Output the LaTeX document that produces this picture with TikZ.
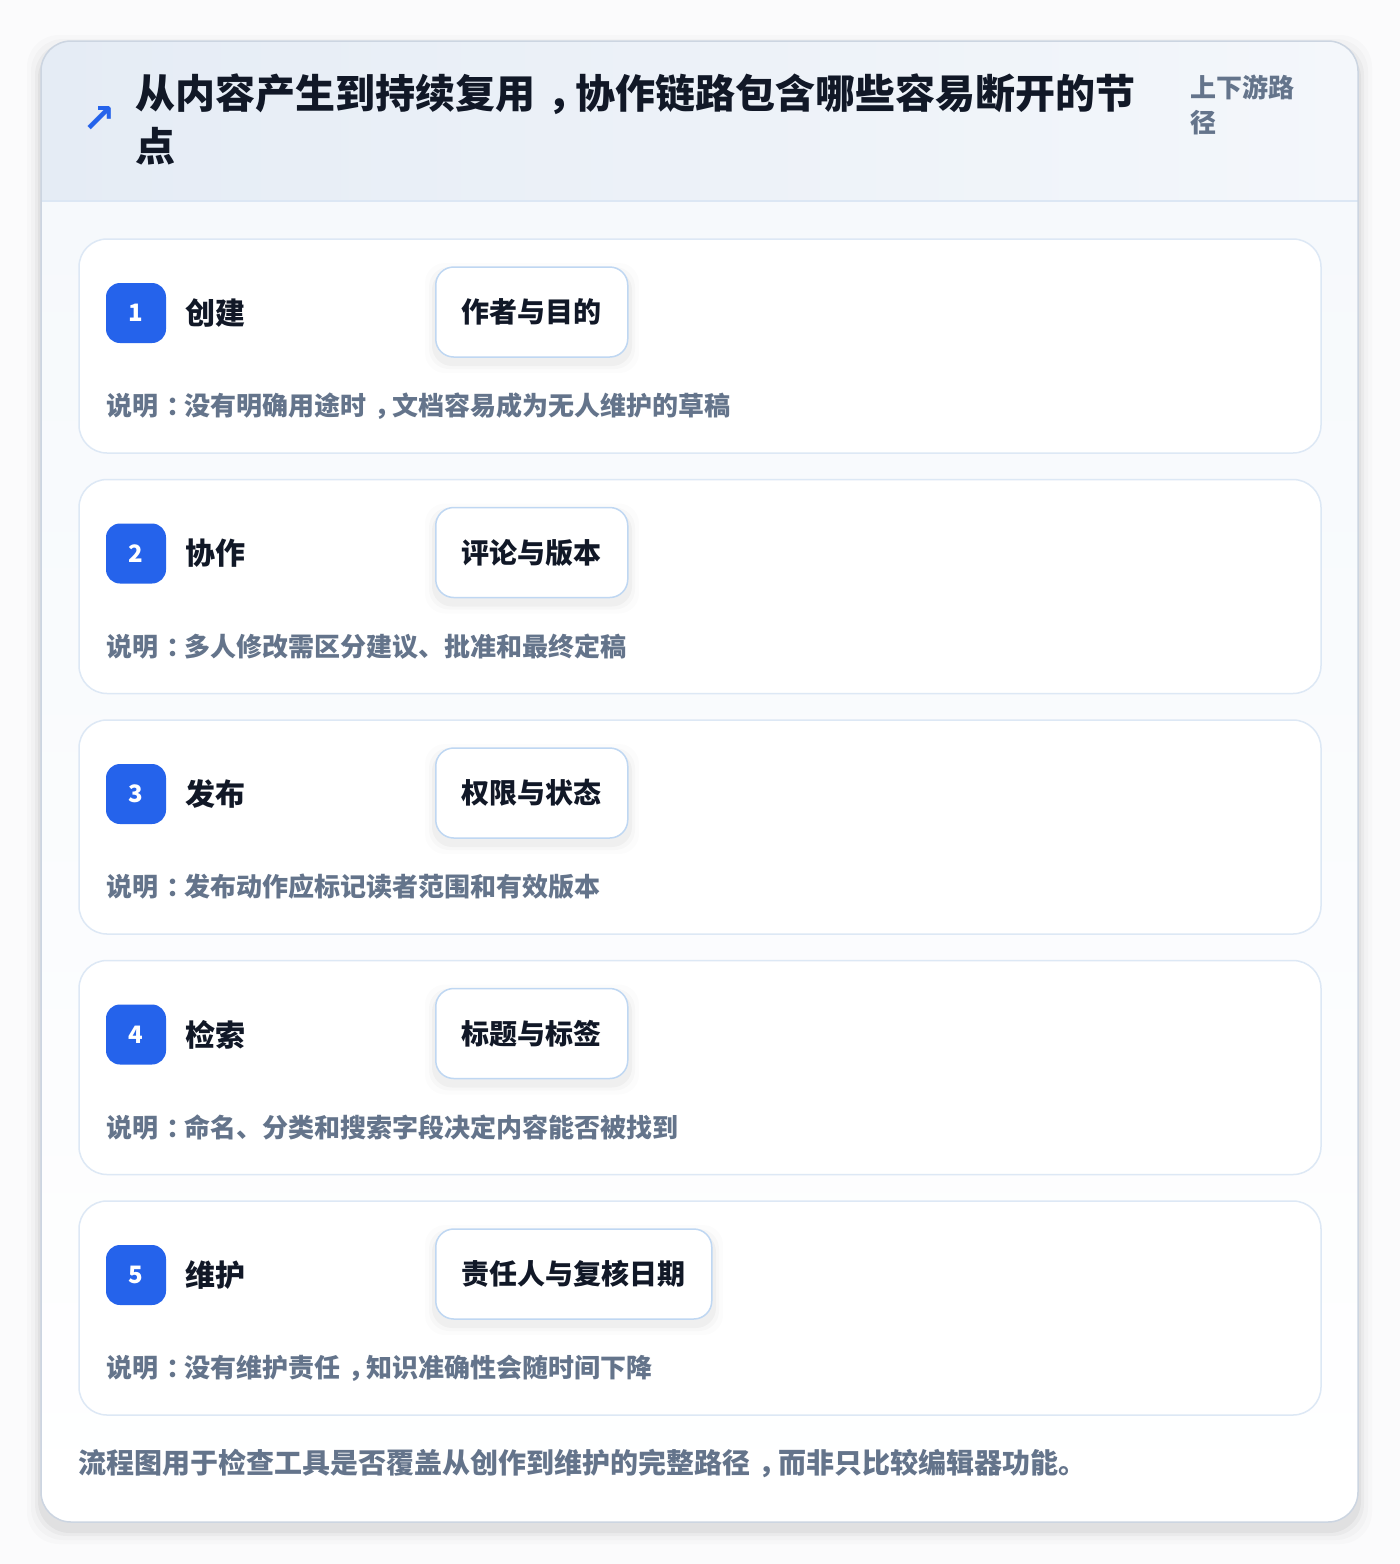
\documentclass[tikz,border=0pt]{standalone}
\usepackage{fontspec}
\setmainfont{Noto Sans CJK SC}
\newfontfamily\symfont{DejaVu Sans}
\usetikzlibrary{positioning}

% leestekens naar het midden van hun vak
\newcommand\dou{\hspace{0.3em}\makebox[0.7em][l]{，}}
\newcommand\mao{\hspace{0.3em}\makebox[0.7em][l]{：}}

\definecolor{pagebg}{HTML}{FBFBFC}
\definecolor{cardline}{HTML}{CCD5E1}
\definecolor{headA}{HTML}{E5ECF5}
\definecolor{headB}{HTML}{F4F7FB}
\definecolor{bodytint}{HTML}{F6F9FC}
\definecolor{headline}{HTML}{DCE7F4}
\definecolor{stepline}{HTML}{DDE8F5}
\definecolor{tagline}{HTML}{BFD7F2}
\definecolor{badgeblue}{HTML}{2563EB}
\definecolor{inkdark}{HTML}{111827}
\definecolor{inkgray}{HTML}{64748B}

\tikzset{
  stepcard/.style={draw=stepline, line width=1.5pt, fill=white, rounded corners=28pt},
  badge/.style={fill=badgeblue, rounded corners=14pt, minimum size=60pt, inner sep=0pt,
    text=white, font=\bfseries\fontsize{24}{26}\selectfont},
  steplabel/.style={anchor=west, inner sep=0pt, text=inkdark, font=\bfseries\fontsize{30}{36}\selectfont},
  tagbox/.style={draw=tagline, line width=1.5pt, fill=white, rounded corners=18pt,
    minimum height=90pt, inner xsep=26pt, text=inkdark, font=\bfseries\fontsize{28}{34}\selectfont},
  desctext/.style={anchor=west, inner sep=0pt, text=inkgray, font=\bfseries\fontsize{26}{32}\selectfont},
}

\begin{document}
\begin{tikzpicture}[x=1pt, y=-1pt]
  \useasboundingbox (0,0) rectangle (1400,1564);
  \fill[pagebg] (0,0) rectangle (1400,1564);

  % Schaduw en kaart
  \foreach \s/\o in {14/0.015, 10/0.02, 6/0.03, 3/0.04}
    \fill[black, opacity=\o, rounded corners=32pt] (41-\s,41-\s+8) rectangle (1358+\s,1522+\s+8);
  \fill[white, rounded corners=30pt] (41,41) rectangle (1358,1522);

  % Kop
  \begin{scope}
    \clip[rounded corners=30pt] (41,41) rectangle (1358,1522);
    \shade[left color=headA, right color=headB] (41,41) rectangle (1358,201);
    \shade[top color=bodytint, bottom color=white] (41,201) rectangle (1358,1522);
  \end{scope}
  \draw[headline, line width=1.5pt] (41,201) -- (1358,201);
  \draw[cardline, line width=1.5pt, rounded corners=30pt] (41,41) rectangle (1358,1522);

  \node[text=badgeblue, inner sep=0pt, font=\symfont\bfseries\fontsize{40}{44}\selectfont] (arrow) at (99,119) {↗};
  \node[anchor=west, align=left, inner sep=0pt, text=inkdark, font=\bfseries\fontsize{40}{53}\selectfont]
    (title) at (135,119) {从内容产生到持续复用\dou 协作链路包含哪些容易断开的节\\点};
  \node[anchor=west, align=left, inner sep=0pt, text=inkgray, font=\bfseries\fontsize{26}{35}\selectfont]
    (scope) at (1190,105) {上下游路\\径};

  % Stappen
  \foreach \n/\lab/\tag/\desc [count=\i from 0] in {
      1/创建/作者与目的/说明\mao 没有明确用途时\dou 文档容易成为无人维护的草稿,
      2/协作/评论与版本/说明\mao 多人修改需区分建议、批准和最终定稿,
      3/发布/权限与状态/说明\mao 发布动作应标记读者范围和有效版本,
      4/检索/标题与标签/说明\mao 命名、分类和搜索字段决定内容能否被找到,
      5/维护/责任人与复核日期/说明\mao 没有维护责任\dou 知识准确性会随时间下降} {
    \pgfmathsetmacro{\yt}{239+240.5*\i}
    \pgfmathsetmacro{\xr}{\n==5 ? 713 : 629}
    \draw[stepcard] (79,\yt) rectangle (1321,\yt+214);
    \node[badge] (badge\n) at (136,\yt+74) {\n};
    \node[steplabel, right=19pt of badge\n] (label\n) {\lab};
    \foreach \s/\o in {10/0.012, 6/0.02, 3/0.03}
      \fill[black, opacity=\o, rounded corners=20pt] (435-\s,\yt+28-\s+6) rectangle (\xr+\s,\yt+118+\s+6);
    \node[tagbox, anchor=west] (tag\n) at (435,\yt+73) {\tag};
    \node[desctext] (desc\n) at (106,\yt+167) {\desc};
  }

  % Voetnoot
  \node[anchor=west, inner sep=0pt, text=inkgray, font=\bfseries\fontsize{28}{32}\selectfont]
    (note) at (78,1463) {流程图用于检查工具是否覆盖从创作到维护的完整路径\dou 而非只比较编辑器功能。};
\end{tikzpicture}
\end{document}
